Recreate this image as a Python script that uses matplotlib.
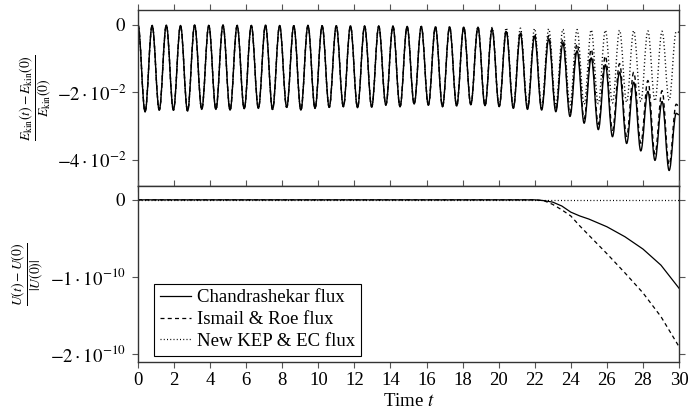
import numpy as np
import matplotlib
matplotlib.use('Agg')
import matplotlib.pyplot as plt
from matplotlib.path import Path
from matplotlib.patches import PathPatch
from matplotlib.ticker import FixedLocator, FixedFormatter

plt.rcParams['font.family'] = ['Liberation Serif', 'DejaVu Serif']
plt.rcParams['mathtext.fontset'] = 'stix'
plt.rcParams['font.size'] = 13.5

# --- top panel: extrema of (E_kin(t)-E_kin(0))/E_kin(0) ---
# half period between a peak and the next trough
half_period = 0.3927

# peaks k = 0..23, identical for the three fluxes
peaks_common = [0.0, -0.0002, -0.0001, -0.0002, -0.0001, -0.0002, -0.0001, -0.0002,
                -0.0002, -0.0001, -0.0002, -0.0003, -0.0002, -0.0003, -0.0003, -0.0003,
                -0.0004, -0.0004, -0.0004, -0.0005, -0.0005, -0.0006, -0.0006, -0.0007]
# troughs k = 0..22, identical for the three fluxes
troughs_common = [-0.0257, -0.0252, -0.0252, -0.0255, -0.0250, -0.0250, -0.0252, -0.0248,
                  -0.0247, -0.0250, -0.0244, -0.0252, -0.0247, -0.0244, -0.0242, -0.0245,
                  -0.0243, -0.0237, -0.0242, -0.0234, -0.0237, -0.0242, -0.0240]

# peaks k = 24..38
chandra_peaks = [-0.0008, -0.0013, -0.0020, -0.0026, -0.0034, -0.0042, -0.0055, -0.0077,
                 -0.0098, -0.0118, -0.0140, -0.0170, -0.0197, -0.0227, -0.0262]
ismail_peaks = [-0.0007, -0.0011, -0.0016, -0.0020, -0.0026, -0.0032, -0.0042, -0.0056,
                -0.0072, -0.0092, -0.0115, -0.0140, -0.0165, -0.0195, -0.0235]
kep_peaks = [-0.0006, -0.0008, -0.0009, -0.0010, -0.0011, -0.0012, -0.0013, -0.0014,
             -0.0015, -0.0016, -0.0016, -0.0017, -0.0018, -0.0019, -0.0020]
# troughs k = 23..37
chandra_troughs = [-0.0236, -0.0239, -0.0242, -0.0247, -0.0250, -0.0252, -0.0257, -0.0271,
                   -0.0291, -0.0310, -0.0331, -0.0351, -0.0373, -0.0401, -0.0431]
ismail_troughs = [-0.0236, -0.0239, -0.0241, -0.0245, -0.0247, -0.0249, -0.0252, -0.0262,
                  -0.0278, -0.0294, -0.0312, -0.0330, -0.0350, -0.0382, -0.0414]
kep_troughs = [-0.0236, -0.0238, -0.0239, -0.0240, -0.0240, -0.0239, -0.0238, -0.0237,
               -0.0235, -0.0233, -0.0231, -0.0229, -0.0227, -0.0225, -0.0223]
# value at t = 30
end_values = {'chandra': -0.0266, 'ismail': -0.0242, 'kep': -0.0022}

# --- bottom panel: (U(t)-U(0))/|U(0)| ---
t_u = [0, 22, 22.5, 23, 23.5, 24, 24.5, 25, 26, 27, 28, 29, 30]
u_chandra = [0, 0, -0.01, -0.03, -0.08, -0.16, -0.21, -0.25, -0.35, -0.48, -0.64, -0.85, -1.15]
u_ismail = [0, 0, -0.01, -0.06, -0.13, -0.21, -0.34, -0.46, -0.70, -0.95, -1.21, -1.52, -1.91]
u_kep = [0, 0, 0, 0, 0, 0, 0, 0, 0, 0, 0, 0, 0]

labels = ['Chandrashekar flux', 'Ismail & Roe flux', 'New KEP & EC flux']
styles = ['-', (0, (3.2, 2.6)), (0, (0.8, 1.8))]


def extrema_series(peaks, troughs, end):
    p = peaks_common + peaks
    tr = troughs_common + troughs
    vals = []
    for k in range(len(tr)):
        vals += [p[k], tr[k]]
    vals.append(p[len(tr)])
    t = list(np.arange(len(vals)) * half_period)
    t.append(30.0)
    vals.append(end)
    return t, vals


def smooth_path(t, v, c=0.364):
    # cubic segments with flat tangents at each extremum
    verts = [(t[0], v[0])]
    codes = [Path.MOVETO]
    for i in range(len(t) - 1):
        dt = t[i + 1] - t[i]
        verts += [(t[i] + c * dt, v[i]), (t[i + 1] - c * dt, v[i + 1]), (t[i + 1], v[i + 1])]
        codes += [Path.CURVE4] * 3
    return Path(verts, codes)


fig = plt.figure(figsize=(6.89, 4.18), dpi=100)
ax1 = fig.add_axes([138 / 689, 1 - 186 / 418, 541 / 689, 176 / 418])
ax2 = fig.add_axes([138 / 689, 1 - 362 / 418, 541 / 689, 176 / 418], sharex=ax1)

top = [extrema_series(kep_peaks, kep_troughs, end_values['kep']),
       extrema_series(ismail_peaks, ismail_troughs, end_values['ismail']),
       extrema_series(chandra_peaks, chandra_troughs, end_values['chandra'])]
for (t, v), ls in zip(top, styles[::-1]):
    ax1.add_patch(PathPatch(smooth_path(t, v), fill=False, edgecolor='black',
                            lw=1.0, linestyle=ls))

for y, ls, lab in zip([u_chandra, u_ismail, u_kep], styles, labels):
    ax2.plot(t_u, np.array(y) * 1e-10, color='black', lw=0.9, linestyle=ls, label=lab)

ax1.set_xlim(0, 30)
ax1.set_ylim(-0.0477, 0.0044)
ax2.set_ylim(-2.11e-10, 0.18e-10)

ax1.yaxis.set_major_locator(FixedLocator([-0.04, -0.02, 0]))
ax1.yaxis.set_major_formatter(FixedFormatter([r'$-4\cdot10^{-2}$', r'$-2\cdot10^{-2}$', r'$0$']))
ax2.yaxis.set_major_locator(FixedLocator([-2e-10, -1e-10, 0]))
ax2.yaxis.set_major_formatter(FixedFormatter([r'$-2\cdot10^{-10}$', r'$-1\cdot10^{-10}$', r'$0$']))
ax2.xaxis.set_major_locator(FixedLocator(np.arange(0, 31, 2)))

for ax in (ax1, ax2):
    for s in ax.spines.values():
        s.set_color('#333333')
        s.set_linewidth(1.0)
    ax.tick_params(direction='out', length=4.5, width=0.8, color='#555555',
                   top=True, right=True, pad=2.5, labelsize=13.5)
    ax.tick_params(axis='y', pad=4)
ax1.tick_params(labelbottom=False)

ax1.set_ylabel(r'$\frac{E_{\mathrm{kin}}(t)-E_{\mathrm{kin}}(0)}{E_{\mathrm{kin}}(0)}$', fontsize=14)
ax1.yaxis.set_label_coords(-0.154, 0.5)
ax2.set_ylabel(r'$\frac{U(t)-U(0)}{|U(0)|}$', fontsize=14)
ax2.yaxis.set_label_coords(-0.168, 0.5)
ax2.set_xlabel(r'Time $t$', labelpad=3)

leg = ax2.legend(loc='lower left', bbox_to_anchor=(0.03, 0.036), frameon=True,
                 fancybox=False, edgecolor='black', framealpha=1, borderaxespad=0,
                 handlelength=1.65, handletextpad=0.35, labelspacing=0.25, borderpad=0.3)
leg.get_frame().set_linewidth(0.8)

fig.savefig('out.png', dpi=100)
